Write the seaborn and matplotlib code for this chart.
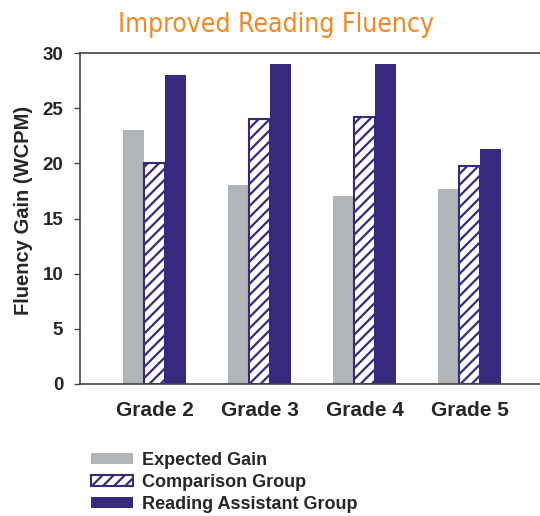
import matplotlib
matplotlib.use("Agg")
import matplotlib.pyplot as plt
import seaborn as sns
import pandas as pd
from matplotlib.patches import Patch

grades = ["Grade 2", "Grade 3", "Grade 4", "Grade 5"]
groups = ["Expected Gain", "Comparison Group", "Reading Assistant Group"]
expected = [23.0, 18.0, 17.0, 17.7]
comparison = [20.0, 24.0, 24.2, 19.8]
assistant = [28.0, 29.0, 29.0, 21.3]
yticks = [0, 5, 10, 15, 20, 25, 30]

GRAY = "#B1B5B7"
NAVY = "#372A7E"
ORANGE = "#F7861E"

rows = []
for g, a, b, c in zip(grades, expected, comparison, assistant):
    rows.append((g, groups[0], a))
    rows.append((g, groups[1], b))
    rows.append((g, groups[2], c))
df = pd.DataFrame(rows, columns=["Grade", "Group", "Gain"])

sns.set_style("white")
plt.rcParams["font.family"] = ["Liberation Sans", "DejaVu Sans"]
plt.rcParams["hatch.linewidth"] = 1.6
plt.rcParams["hatch.color"] = NAVY

fig = plt.figure(figsize=(5.4, 5.16), dpi=100)
ax = fig.add_axes([80/540, 1-384/516, 1-80/540 + 0.01, (384-53)/516])

sns.barplot(data=df, x="Grade", y="Gain", hue="Group", hue_order=groups,
            palette=[GRAY, "white", NAVY], width=0.6, gap=0, ax=ax,
            legend=False, errorbar=None, saturation=1)

for p in ax.containers[1]:
    p.set_hatch("///")
    p.set_edgecolor(NAVY)
    p.set_linewidth(1.5)
for p in ax.containers[0]:
    p.set_linewidth(0)
for p in ax.containers[2]:
    p.set_linewidth(0)

ax.set_ylim(0, 30)
ax.set_xlim(-0.714, 3.72)
ax.set_yticks(yticks)
ax.set_yticklabels([str(v) for v in yticks], fontsize=13.5, fontweight="bold")
ax.tick_params(axis="y", length=4, width=1, color="#444", pad=8, left=True)
ax.tick_params(axis="x", length=0, pad=12)
for lab in ax.get_xticklabels():
    lab.set_fontsize(15)
    lab.set_fontweight("bold")
ax.set_xlabel("")
ax.set_ylabel("")
fig.text(24/540, 1-210/516, "Fluency Gain (WCPM)", rotation=90, fontsize=14.5,
         fontweight="bold", ha="center", va="center")

for s in ["left", "top", "bottom"]:
    ax.spines[s].set_visible(True)
    ax.spines[s].set_color("#444")
    ax.spines[s].set_linewidth(1.2)
ax.spines["right"].set_visible(False)

fig.text(276/540, 1-25/516, "Improved Reading Fluency", color=ORANGE, fontsize=19,
         ha="center", va="center", fontstretch="condensed", fontweight="medium",
         family=["Liberation Sans Narrow", "DejaVu Sans"])

handles = [Patch(facecolor=GRAY, edgecolor=GRAY, linewidth=0),
           Patch(facecolor="white", edgecolor=NAVY, hatch="///", linewidth=1.5),
           Patch(facecolor=NAVY, edgecolor=NAVY, linewidth=0)]
leg = fig.legend(handles, groups, loc="upper left", bbox_to_anchor=(91/540, 1-452/516),
                 frameon=False, prop={"size": 13, "weight": "bold"},
                 handlelength=2.33, handleheight=0.6, labelspacing=0.28,
                 handletextpad=0.5, borderaxespad=0, borderpad=0)

fig.savefig("out.png", dpi=100)
